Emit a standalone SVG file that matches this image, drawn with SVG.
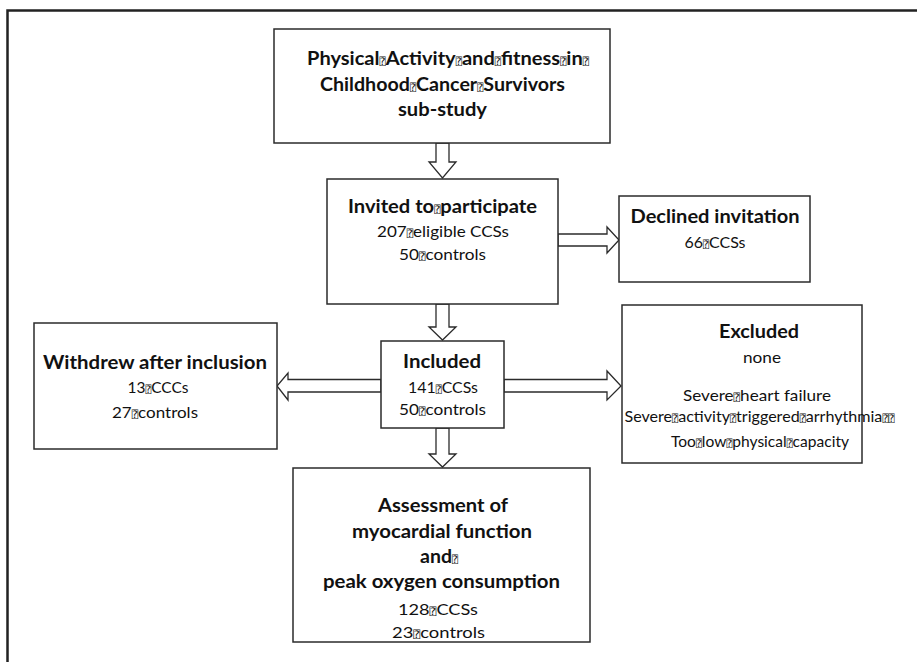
<svg xmlns="http://www.w3.org/2000/svg" width="917" height="662" viewBox="0 0 917 662">
<style>
.box{fill:#fff;stroke:#2b2b2b;stroke-width:1.5}
.arr{fill:#fff;stroke:#2b2b2b;stroke-width:1.3;stroke-linejoin:miter}
text{font-family:Lato,"Liberation Sans",sans-serif;fill:#111;text-anchor:middle}
.b{font-weight:bold;font-size:19.5px}
.r{font-size:16px}
.q{font-family:"DejaVu Sans Mono","DejaVu Sans",monospace;font-size:10px;font-weight:normal}
</style>
<rect width="917" height="662" fill="#fff"/>
<path d="M7.5,662 V10.5 H917" fill="none" stroke="#222" stroke-width="2.5"/>
<g id="connectors">
<polygon class="arr" points="436,143 449,143 449,162 456,162 442.5,178 429,162 436,162"/>
<polygon class="arr" points="436,304 449,304 449,327 456,327 442.5,340 429,327 436,327"/>
<polygon class="arr" points="436,428 449,428 449,454 456,454 442.5,467 429,454 436,454"/>
<polygon class="arr" points="558,234 607,234 607,227 619,240 607,253 607,246 558,246"/>
<polygon class="arr" points="381,379.5 288,379.5 288,373 277,386 288,400 288,392 381,392"/>
<polygon class="arr" points="504,379.5 607,379.5 607,371 621,386 607,400 607,392 504,392"/>
</g>
<g id="node-study">
<rect class="box" x="274" y="29" width="336" height="114"/>
<text class="b" x="448" y="65" textLength="282" lengthAdjust="spacingAndGlyphs">Physical<tspan class="q">⍰</tspan>Activity<tspan class="q">⍰</tspan>and<tspan class="q">⍰</tspan>fitness<tspan class="q">⍰</tspan>in<tspan class="q">⍰</tspan></text>
<text class="b" x="442.5" y="91" textLength="245" lengthAdjust="spacingAndGlyphs">Childhood<tspan class="q">⍰</tspan>Cancer<tspan class="q">⍰</tspan>Survivors</text>
<text class="b" x="442.5" y="116" textLength="89" lengthAdjust="spacingAndGlyphs">sub-study</text>
</g>
<g id="node-invited">
<rect class="box" x="327" y="179" width="231" height="125"/>
<text class="b" x="442.5" y="213" textLength="189" lengthAdjust="spacingAndGlyphs">Invited to<tspan class="q">⍰</tspan>participate</text>
<text class="r" x="443" y="237" textLength="132" lengthAdjust="spacingAndGlyphs">207<tspan class="q">⍰</tspan>eligible CCSs</text>
<text class="r" x="442.5" y="260" textLength="87" lengthAdjust="spacingAndGlyphs">50<tspan class="q">⍰</tspan>controls</text>
</g>
<g id="node-declined">
<rect class="box" x="619" y="196" width="191" height="86"/>
<text class="b" x="715" y="223" textLength="169" lengthAdjust="spacingAndGlyphs">Declined invitation</text>
<text class="r" x="715" y="248" textLength="61" lengthAdjust="spacingAndGlyphs">66<tspan class="q">⍰</tspan>CCSs</text>
</g>
<g id="node-withdrew">
<rect class="box" x="34" y="323" width="243" height="126"/>
<text class="b" x="155" y="369" textLength="224" lengthAdjust="spacingAndGlyphs">Withdrew after inclusion</text>
<text class="r" x="158" y="393" textLength="61" lengthAdjust="spacingAndGlyphs">13<tspan class="q">⍰</tspan>CCCs</text>
<text class="r" x="155" y="418" textLength="86" lengthAdjust="spacingAndGlyphs">27<tspan class="q">⍰</tspan>controls</text>
</g>
<g id="node-included">
<rect class="box" x="381" y="341" width="123" height="87"/>
<text class="b" x="442" y="368" textLength="78" lengthAdjust="spacingAndGlyphs">Included</text>
<text class="r" x="443" y="393" textLength="70" lengthAdjust="spacingAndGlyphs">141<tspan class="q">⍰</tspan>CCSs</text>
<text class="r" x="442.5" y="415" textLength="87" lengthAdjust="spacingAndGlyphs">50<tspan class="q">⍰</tspan>controls</text>
</g>
<g id="node-excluded">
<rect class="box" x="622" y="305" width="240" height="158"/>
<text class="b" x="759" y="338" textLength="80" lengthAdjust="spacingAndGlyphs">Excluded</text>
<text class="r" x="762" y="363" textLength="38" lengthAdjust="spacingAndGlyphs">none</text>
<text class="r" x="757" y="401" textLength="148" lengthAdjust="spacingAndGlyphs">Severe<tspan class="q">⍰</tspan>heart failure</text>
<text class="r" x="759.5" y="422" textLength="270" lengthAdjust="spacingAndGlyphs">Severe<tspan class="q">⍰</tspan>activity<tspan class="q">⍰</tspan>triggered<tspan class="q">⍰</tspan>arrhythmia<tspan class="q">⍰⍰</tspan></text>
<text class="r" x="760" y="447" textLength="178" lengthAdjust="spacingAndGlyphs">Too<tspan class="q">⍰</tspan>low<tspan class="q">⍰</tspan>physical<tspan class="q">⍰</tspan>capacity</text>
</g>
<g id="node-assessment">
<rect class="box" x="293" y="468" width="297" height="174"/>
<text class="b" x="443" y="512" textLength="130" lengthAdjust="spacingAndGlyphs">Assessment of</text>
<text class="b" x="442" y="538" textLength="180" lengthAdjust="spacingAndGlyphs">myocardial function</text>
<text class="b" x="439" y="563">and<tspan class="q">⍰</tspan></text>
<text class="b" x="441.5" y="588" textLength="237" lengthAdjust="spacingAndGlyphs">peak oxygen consumption</text>
<text class="r" x="438" y="615" textLength="80" lengthAdjust="spacingAndGlyphs">128<tspan class="q">⍰</tspan>CCSs</text>
<text class="r" x="438.5" y="638" textLength="93" lengthAdjust="spacingAndGlyphs">23<tspan class="q">⍰</tspan>controls</text>
</g>
</svg>
